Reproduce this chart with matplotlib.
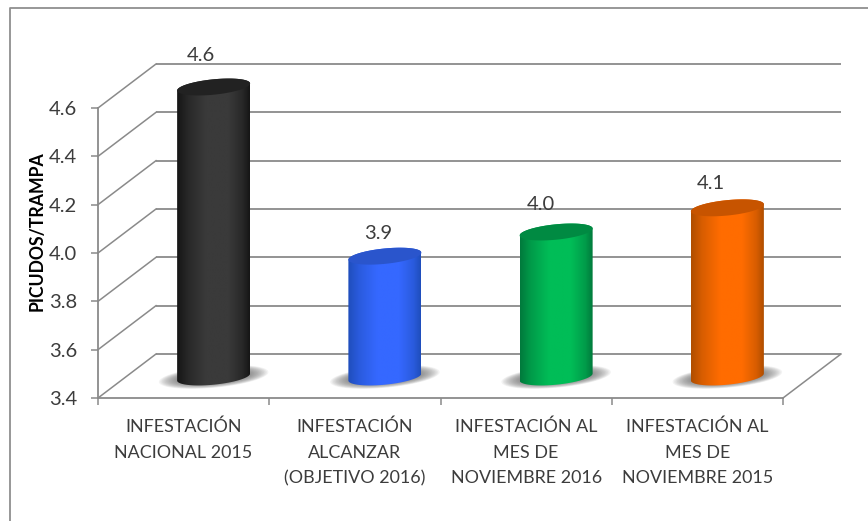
import numpy as np
import matplotlib
matplotlib.use("Agg")
import matplotlib.pyplot as plt
from matplotlib.colors import LinearSegmentedColormap
from matplotlib.lines import Line2D
from matplotlib.patches import PathPatch, Polygon
from matplotlib.path import Path
from matplotlib.transforms import Affine2D

plt.rcParams['font.family'] = ['Lato', 'DejaVu Sans']

categories = ["INFESTACIÓN\nNACIONAL 2015",
              "INFESTACIÓN\nALCANZAR\n(OBJETIVO 2016)",
              "INFESTACIÓN AL\nMES DE\nNOVIEMBRE 2016",
              "INFESTACIÓN AL\nMES DE\nNOVIEMBRE 2015"]
values = [4.6, 3.9, 4.0, 4.1]
value_labels = ["4.6", "3.9", "4.0", "4.1"]
y_ticks = [3.4, 3.6, 3.8, 4.0, 4.2, 4.4, 4.6]
y_tick_labels = ["3.4", "3.6", "3.8", "4.0", "4.2", "4.4", "4.6"]
y_title = "PICUDOS/TRAMPA"

body_edge = ["#161616", "#1f4ebc", "#007a3c", "#b04e00"]
body_mid = ["#3a3a3a", "#3568ff", "#00bd57", "#ff6c00"]
top_colors = ["#222222", "#2a55cc", "#008a42", "#c75400"]
label_shift = [(-13, 32), (-7, 23), (-15, 27), (-17, 24)]

W, H = 868, 521
DPI = 100
L, R, B, T = 98, 783, 398, 108
DX, DY = 58, 44
GRID = "#8a8a8a"
TEXT = "#3c3c3c"

fig = plt.figure(figsize=(W / DPI, H / DPI), dpi=DPI, facecolor="white")
ax = fig.add_axes([L / W, (H - B) / H, (R - L) / W, (B - T) / H])
ax.set_xlim(0, 4)
ax.set_ylim(3.4, 4.6)
ax.patch.set_visible(False)
for s in ("top", "right"):
    ax.spines[s].set_visible(False)
for s in ("left", "bottom"):
    ax.spines[s].set_color(GRID)
    ax.spines[s].set_linewidth(1.3)
    ax.spines[s].set_zorder(1)

back = ax.transData + Affine2D().translate(DX, DY)
mid = ax.transData + Affine2D().translate(DX / 2 + 1, DY / 2 - 1)

for y in y_ticks:
    ax.plot([0, 4], [y, y], color=GRID, lw=1.3, transform=back, clip_on=False, zorder=1,
            solid_capstyle="butt")
    p0 = ax.transData.transform((0, y))
    p1 = back.transform((0, y))
    ax.add_line(Line2D([p0[0], p1[0]], [p0[1], p1[1]], color=GRID, lw=1.1,
                       transform=None, clip_on=False, zorder=1))
p0 = ax.transData.transform((4, 3.4))
p1 = back.transform((4, 3.4))
ax.add_line(Line2D([p0[0], p1[0]], [p0[1], p1[1]], color=GRID, lw=1.1, transform=None,
                   clip_on=False, zorder=1))

ax.set_yticks(y_ticks, y_tick_labels)
ax.set_xticks(range(5), [""] * 5)
ax.set_xticks(np.arange(4) + 0.5, categories, minor=True, linespacing=1.76)
ax.tick_params(axis="y", length=5, width=1.1, color=GRID, labelsize=14.5, labelcolor=TEXT, pad=10)
ax.tick_params(axis="x", which="major", length=5, width=1.1, color=GRID)
ax.tick_params(axis="x", which="minor", length=0, labelsize=12.9, labelcolor=TEXT, pad=14.5)
ax.set_ylabel(y_title, fontsize=12.7, fontweight="bold", color="black", va="center")
ax.yaxis.set_label_coords(37 / W, (H - 231) / H, transform=fig.transFigure)

half_w = 36.5 / ((R - L) / 4)
unit = (B - T) / (4.6 - 3.4)
semi_b = 7.7 / unit
tilt = 3.5 / unit


def ell(cx, cy, t, scale=1.0):
    return (cx + half_w * scale * np.cos(t),
            cy + semi_b * scale * np.sin(t) + tilt * scale * np.cos(t))


t_all = np.linspace(0, 2 * np.pi, 121)
t_upper = np.linspace(0, np.pi, 61)
t_lower = np.linspace(np.pi, 2 * np.pi, 61)

for i, v in enumerate(values):
    cx = i + 0.5
    for k in np.linspace(1, 0.1, 18):
        sx, sy = ell(cx, 3.4, t_all)
        sx = cx + (sx - cx) * (0.75 + 0.75 * k)
        sy = 3.4 + (sy - 3.4) * (0.6 + 0.8 * k)
        ax.add_patch(Polygon(np.c_[sx, sy], closed=True, fc="#666666", ec="none", alpha=0.08,
                             transform=mid, clip_on=False, zorder=2))

    bx, by = ell(cx, 3.4, t_lower)
    tx, ty = ell(cx, v, t_upper)
    verts = np.vstack([np.c_[bx, by], np.c_[tx, ty], [[bx[0], by[0]]]])
    codes = [Path.MOVETO] + [Path.LINETO] * (len(verts) - 2) + [Path.CLOSEPOLY]
    body = PathPatch(Path(verts, codes), fc="none", ec="none", transform=mid, clip_on=False)
    ax.add_patch(body)
    cmap = LinearSegmentedColormap.from_list(f"c{i}", [body_edge[i], body_mid[i]])
    grad = np.array([np.interp(np.linspace(0, 1, 128),
                               [0, .15, .4, .7, .9, 1], [0, .5, 1, 1, .5, 0])])
    im = ax.imshow(grad, cmap=cmap, vmin=0, vmax=1, aspect="auto",
                   extent=(cx - half_w, cx + half_w, 3.3, v + 0.1),
                   transform=mid, zorder=3, interpolation="bilinear")
    im.set_clip_box(fig.bbox)
    im.set_clip_path(body)
    cap_x, cap_y = ell(cx, v, t_all)
    ax.add_patch(Polygon(np.c_[cap_x, cap_y], closed=True, fc=top_colors[i], ec="none",
                         transform=mid, clip_on=False, zorder=4))
    ax.annotate(value_labels[i], (cx, v), xycoords=mid,
                xytext=label_shift[i], textcoords="offset pixels",
                ha="center", va="center", fontsize=14.5, color=TEXT, zorder=5,
                annotation_clip=False)

ax.set_xlim(0, 4)
ax.set_ylim(3.4, 4.6)

fig.add_artist(Line2D([9.5 / W, 9.5 / W, 1], [0, (H - 8) / H, (H - 8) / H], color="#8f8f8f", lw=1.3))

fig.savefig("out.png", dpi=DPI, facecolor="white")
